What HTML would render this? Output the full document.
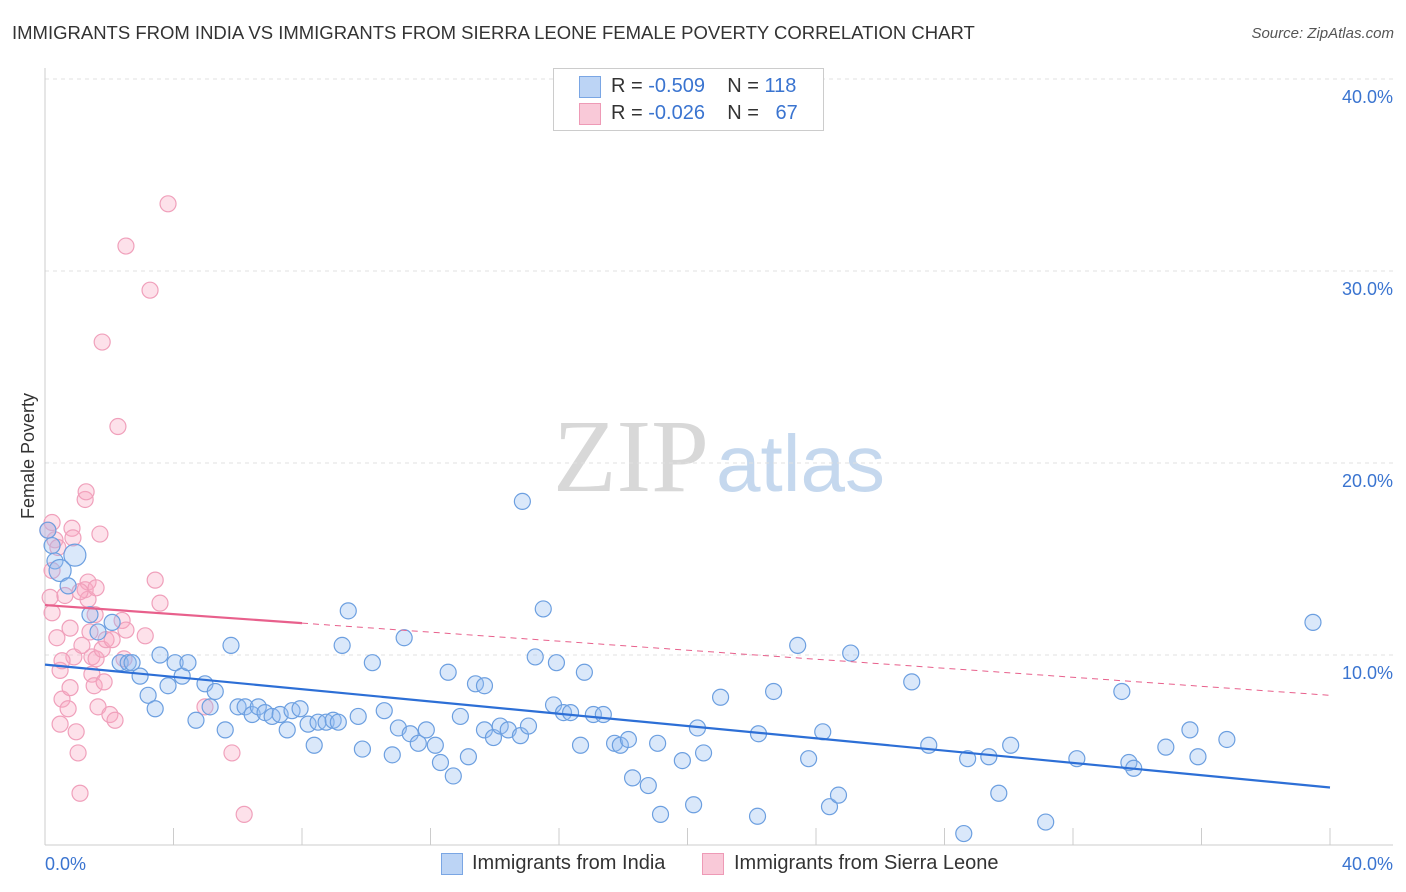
<!DOCTYPE html>
<html><head><meta charset="utf-8"><style>
body{margin:0;background:#fff;font-family:"Liberation Sans",sans-serif;}
#wrap{position:relative;width:1406px;height:892px;overflow:hidden;}
.t{position:absolute;white-space:nowrap;}
</style></head><body>
<div id="wrap">
<div class="t" style="left:12px;top:22px;font-size:18.5px;color:#333;">IMMIGRANTS FROM INDIA VS IMMIGRANTS FROM SIERRA LEONE FEMALE POVERTY CORRELATION CHART</div>
<div class="t" style="right:12px;top:25px;font-size:15px;color:#555;font-style:italic;">Source: ZipAtlas.com</div>
<svg id="svg" width="1406" height="892" style="position:absolute;left:0;top:0"></svg>
</div>
<script>
const yTicks=[10,20,30,40];
const xTickLabels=["0.0%","40.0%"];
const indiaX=[0.09,0.22,0.31,0.93,0.47,0.72,1.40,1.65,2.09,2.34,2.59,2.71,2.96,3.21,3.43,3.58,3.83,4.05,4.27,4.45,4.70,4.98,5.14,5.30,5.61,5.79,6.01,6.23,6.45,6.64,6.85,7.07,7.32,7.54,7.69,7.94,8.19,8.38,8.50,8.75,8.97,9.13,9.25,9.44,9.75,9.88,10.19,10.56,10.81,11.00,11.18,11.37,11.62,11.87,12.15,12.31,12.55,12.71,12.93,13.18,13.40,13.68,13.68,13.96,14.17,14.42,14.80,14.86,15.05,15.26,15.51,15.83,15.92,16.14,16.36,16.67,16.79,17.07,17.38,17.73,17.91,18.16,18.29,18.78,19.07,19.16,19.84,20.19,20.31,20.50,21.03,22.18,22.21,22.68,23.43,23.77,24.21,24.42,24.70,25.08,26.98,27.51,28.60,28.72,29.38,29.69,30.06,31.15,32.12,33.52,33.74,33.89,34.89,35.64,35.89,36.79,39.47];
const indiaY=[16.5,15.7,14.9,15.2,14.4,13.6,12.1,11.2,11.7,9.6,9.6,9.6,8.9,7.9,7.2,10.0,8.4,9.6,8.9,9.6,6.6,8.5,7.3,8.1,6.1,10.5,7.3,7.3,6.9,7.3,7.0,6.8,6.9,6.1,7.1,7.2,6.4,5.3,6.5,6.5,6.6,6.5,10.5,12.3,6.8,5.1,9.6,7.1,4.8,6.2,10.9,5.9,5.4,6.1,5.3,4.4,9.1,3.7,6.8,4.7,8.5,8.4,6.1,5.7,6.3,6.1,5.8,18.0,6.3,9.9,12.4,7.4,9.6,7.0,7.0,5.3,9.1,6.9,6.9,5.4,5.3,5.6,3.6,3.2,5.4,1.7,4.5,2.2,6.2,4.9,7.8,1.6,5.9,8.1,10.5,4.6,6.0,2.1,2.7,10.1,8.6,5.3,0.7,4.6,4.7,2.8,5.3,1.3,4.6,8.1,4.4,4.1,5.2,6.1,4.7,5.6,11.7];
const leoneX=[0.22,0.31,0.40,0.09,0.22,0.16,0.22,0.37,0.47,0.53,0.47,0.62,0.72,0.78,0.78,0.84,0.87,0.90,0.97,1.03,1.09,1.15,1.25,1.25,1.28,1.34,1.34,1.46,1.46,1.53,1.56,1.59,1.65,1.71,1.78,1.84,1.90,2.02,2.09,2.18,2.27,2.40,2.46,2.52,2.52,3.12,3.27,3.43,3.58,3.83,1.78,4.98,5.82,6.20,1.09,1.40,1.59,0.53];
const leoneY=[16.9,16.0,15.6,16.5,14.4,13.0,12.2,10.9,9.2,7.7,6.4,13.1,7.2,11.4,8.3,16.6,16.1,9.9,6.0,4.9,2.8,10.5,18.1,13.4,18.5,13.8,12.9,9.0,9.9,8.4,12.1,9.8,7.3,16.3,10.3,8.6,10.8,6.9,10.8,6.6,21.9,11.8,9.8,31.3,11.3,11.0,29.0,13.9,12.7,33.5,26.3,7.3,4.9,1.7,13.3,11.2,13.5,9.7];
const indiaTrend=[9.5,3.1];
const leoneTrend=[12.6,7.9];
const leoneSolidEnd=8;

const X0=45,X1=1330,Y0=847,Y40=79;
const xs=v=>X0+(X1-X0)*v/40;
const ys=v=>Y0-(Y0-Y40)*v/40;
const svg=document.getElementById('svg');
const NS='http://www.w3.org/2000/svg';
function mk(tag,attrs,parent){const e=document.createElementNS(NS,tag);for(const k in attrs)e.setAttribute(k,attrs[k]);(parent||svg).appendChild(e);return e;}

let wm=mk('text',{x:553,y:491,'font-size':104,'font-family':'Liberation Serif, serif',fill:'#d8d8d8'});wm.textContent='ZIP';


let wm2=mk('text',{x:716,y:491,'font-size':80,'font-family':'Liberation Sans, sans-serif',fill:'#c5d8ee'});wm2.textContent='atlas';



yTicks.forEach(t=>{
 const g=mk('line',{x1:X0,x2:1393,y1:ys(t),y2:ys(t),stroke:'#e0e0e0','stroke-dasharray':'4,4'});
 
 
 const l=mk('text',{x:1393,y:ys(t)+24,'text-anchor':'end','font-size':18,fill:'#3a74d0','font-family':'Liberation Sans, sans-serif'});
 l.textContent=t.toFixed(1)+'%';
 
 
});
const ax=mk('line',{x1:X0,x2:1393,y1:845,y2:845,stroke:'#ccc'});


const ay=mk('line',{x1:X0,x2:X0,y1:68,y2:845,stroke:'#ccc'});


for(let i=0;i<=40;i+=4){
 const tk=mk('line',{x1:xs(i),x2:xs(i),y1:828,y2:845,stroke:'#ccc'});
 
 
}
const xl0=mk('text',{x:45,y:870,'font-size':18,fill:'#3a74d0','font-family':'Liberation Sans, sans-serif'});xl0.textContent=xTickLabels[0];


const xl1=mk('text',{x:1393,y:870,'text-anchor':'end','font-size':18,fill:'#3a74d0','font-family':'Liberation Sans, sans-serif'});xl1.textContent=xTickLabels[1];


const yt=mk('text',{x:34,y:456,'text-anchor':'middle','font-size':18,fill:'#333',transform:'rotate(-90 34 456)','font-family':'Liberation Sans, sans-serif'});yt.textContent='Female Poverty';



leoneX.forEach((x,i)=>{
 const c=mk('circle',{cx:xs(x),cy:ys(leoneY[i]),r:8,fill:'rgba(248,170,195,0.35)',stroke:'#f0a0bb','stroke-width':1.2});
 
 
});
indiaX.forEach((x,i)=>{
 const big=(i===3||i===4);
 const c=mk('circle',{cx:xs(x),cy:ys(indiaY[i]),r:big?11:8,fill:'rgba(150,190,240,0.35)',stroke:'#6c9fe0','stroke-width':1.2});
 
 
});
const bt=mk('line',{x1:xs(0),y1:ys(indiaTrend[0]),x2:xs(40),y2:ys(indiaTrend[1]),stroke:'#2d6fd6','stroke-width':2.2});


const pm=leoneTrend[0]+(leoneTrend[1]-leoneTrend[0])*leoneSolidEnd/40;
const pt=mk('line',{x1:xs(0),y1:ys(leoneTrend[0]),x2:xs(leoneSolidEnd),y2:ys(pm),stroke:'#e8608c','stroke-width':2.2});


const pd=mk('line',{x1:xs(leoneSolidEnd),y1:ys(pm),x2:xs(40),y2:ys(leoneTrend[1]),stroke:'#e8608c','stroke-width':1,'stroke-dasharray':'6,5'});


</script>
<div class="t" style="left:553px;top:68px;width:269px;height:61px;border:1px solid #ccc;background:#fff;">
 <div class="t" style="left:25px;top:7px;width:20px;height:20px;background:#bcd4f5;border:1px solid #7aa6e4;"></div>
 <div class="t" style="left:57px;top:6px;font-size:20px;color:#333;">R = <span style="color:#3a74d0">-0.509</span>&nbsp;&nbsp;&nbsp; N = <span style="color:#3a74d0">118</span></div>
 <div class="t" style="left:25px;top:34px;width:20px;height:20px;background:#f9c9d8;border:1px solid #ee9ab6;"></div>
 <div class="t" style="left:57px;top:33px;font-size:20px;color:#333;">R = <span style="color:#3a74d0">-0.026</span>&nbsp;&nbsp;&nbsp; N = &nbsp;&nbsp;<span style="color:#3a74d0">67</span></div>
</div>
<div class="t" style="left:441px;top:853px;width:20px;height:20px;background:#bcd4f5;border:1px solid #7aa6e4;"></div>
<div class="t" style="left:472px;top:852px;font-size:20px;color:#333;">Immigrants from India</div>
<div class="t" style="left:702px;top:853px;width:20px;height:20px;background:#f9c9d8;border:1px solid #ee9ab6;"></div>
<div class="t" style="left:734px;top:852px;font-size:20px;color:#333;">Immigrants from Sierra Leone</div>
</body></html>
